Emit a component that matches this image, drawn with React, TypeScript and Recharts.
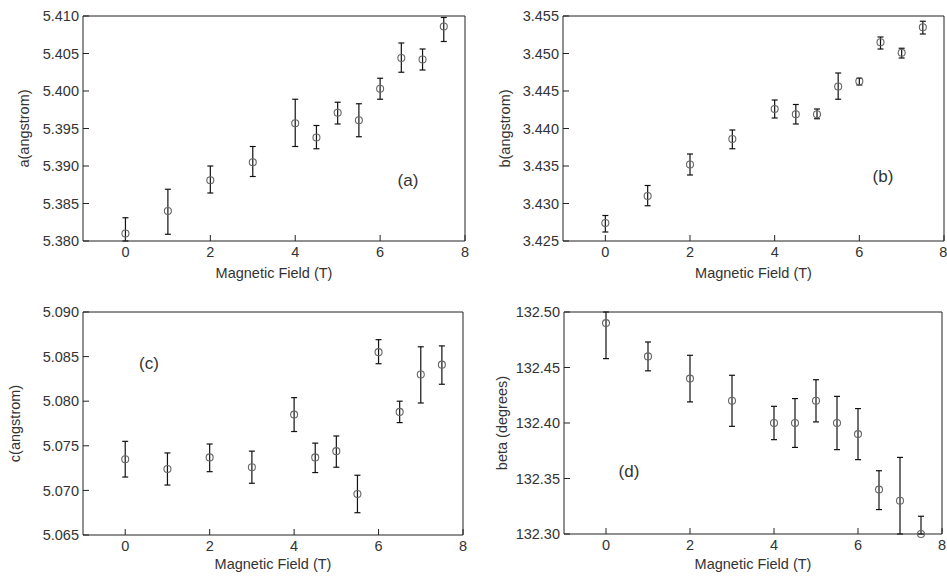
import { ErrorBar, Scatter, ScatterChart, XAxis, YAxis } from "recharts";

const field = [0, 1, 2, 3, 4, 4.5, 5, 5.5, 6, 6.5, 7, 7.5];
const fieldTicks = [0, 2, 4, 6, 8];

// (a) lattice a
const aValues = [5.381, 5.384, 5.3881, 5.3905, 5.3957, 5.3938, 5.3971, 5.3961, 5.4003, 5.4044, 5.4042, 5.4086];
const aErrUp = [0.0021, 0.0029, 0.0019, 0.0021, 0.0032, 0.0016, 0.0014, 0.0022, 0.0014, 0.002, 0.0014, 0.0012];
const aErrDown = [0.001, 0.0031, 0.0017, 0.0019, 0.0031, 0.0015, 0.0015, 0.0022, 0.0014, 0.0019, 0.0014, 0.002];
const aTicks = [5.38, 5.385, 5.39, 5.395, 5.4, 5.405, 5.41];

// (b) lattice b
const bValues = [3.4274, 3.431, 3.4352, 3.4386, 3.4426, 3.4419, 3.4419, 3.4456, 3.4463, 3.4515, 3.4501, 3.4535];
const bErrUp = [0.001, 0.0014, 0.0014, 0.0012, 0.0012, 0.0013, 0.0007, 0.0018, 0.0004, 0.0007, 0.0006, 0.0008];
const bErrDown = [0.0012, 0.0013, 0.0014, 0.0013, 0.0012, 0.0013, 0.0006, 0.0017, 0.0005, 0.0009, 0.0007, 0.0009];
const bTicks = [3.425, 3.43, 3.435, 3.44, 3.445, 3.45, 3.455];

// (c) lattice c
const cValues = [5.0735, 5.0724, 5.0737, 5.0726, 5.0785, 5.0737, 5.0744, 5.0696, 5.0855, 5.0788, 5.083, 5.0841];
const cErrUp = [0.002, 0.0018, 0.0015, 0.0018, 0.0019, 0.0016, 0.0017, 0.0021, 0.0014, 0.0012, 0.0031, 0.0021];
const cErrDown = [0.002, 0.0018, 0.0016, 0.0018, 0.0019, 0.0017, 0.0018, 0.0021, 0.0013, 0.0012, 0.0032, 0.0022];
const cTicks = [5.065, 5.07, 5.075, 5.08, 5.085, 5.09];

// (d) beta angle
const betaValues = [132.49, 132.46, 132.44, 132.42, 132.4, 132.4, 132.42, 132.4, 132.39, 132.34, 132.33, 132.3];
const betaErrUp = [0.01, 0.013, 0.021, 0.023, 0.015, 0.022, 0.019, 0.024, 0.023, 0.017, 0.039, 0.016];
const betaErrDown = [0.032, 0.013, 0.021, 0.023, 0.015, 0.022, 0.019, 0.024, 0.023, 0.018, 0.03, 0];
const betaTicks = [132.3, 132.35, 132.4, 132.45, 132.5];

const FONT = "'Liberation Sans', Arial, sans-serif";
const TEXT = "#333";
const AXIS = "#222";

type PanelProps = {
  left: number;
  top: number;
  width: number;
  height: number;
  yWidth: number;
  xHeight: number;
  margin: { top: number; right: number; bottom: number; left: number };
  values: number[];
  errUp: number[];
  errDown: number[];
  yTicks: number[];
  decimals: number;
  yLabel: string;
  yLabelX: number;
  xLabelOffset: number;
  tag: string;
  tagX: number;
  tagY: number;
};

function Panel(p: PanelProps) {
  const rows = field.map((x, i) => ({ x, y: p.values[i], err: [p.errDown[i], p.errUp[i]] }));
  const domain: [number, number] = [p.yTicks[0], p.yTicks[p.yTicks.length - 1]];
  const tickStyle = { fill: TEXT, fontSize: 14.5, fontFamily: FONT };
  return (
    <div style={{ position: "absolute", left: p.left, top: p.top, width: p.width, height: p.height }}>
      <ScatterChart width={p.width} height={p.height} margin={p.margin}>
        <XAxis
          dataKey="x"
          type="number"
          domain={[-1, 8]}
          ticks={fieldTicks}
          height={p.xHeight}
          tickSize={-6}
          tickMargin={12}
          tick={tickStyle}
          stroke={AXIS}
          label={{
            value: "Magnetic Field (T)",
            position: "insideBottom",
            offset: p.xLabelOffset,
            style: { fill: TEXT, fontSize: 14.5, fontFamily: FONT },
          }}
        />
        <XAxis
          xAxisId="top"
          orientation="top"
          type="number"
          domain={[-1, 8]}
          ticks={fieldTicks}
          height={1}
          tickSize={-6}
          tick={false}
          stroke={AXIS}
        />
        <YAxis
          dataKey="y"
          type="number"
          domain={domain}
          ticks={p.yTicks}
          width={p.yWidth}
          tickSize={-6}
          tickMargin={10}
          tick={tickStyle}
          tickFormatter={(v: number) => v.toFixed(p.decimals)}
          stroke={AXIS}
          label={{
            value: p.yLabel,
            angle: -90,
            position: "insideLeft",
            offset: p.yLabelX,
            style: { textAnchor: "middle", fill: TEXT, fontSize: 14.5, fontFamily: FONT },
          }}
        />
        <YAxis
          yAxisId="right"
          orientation="right"
          type="number"
          domain={domain}
          ticks={p.yTicks}
          width={1}
          tickSize={-6}
          tick={false}
          stroke={AXIS}
        />
        <Scatter
          data={rows}
          isAnimationActive={false}
          shape={(s: any) => (
            <circle cx={s.cx} cy={s.cy} r={3.5} fill="none" stroke="#666" strokeWidth={1.1} />
          )}
        >
          <ErrorBar dataKey="err" direction="y" width={3} stroke="#111" strokeWidth={1.2} isAnimationActive={false} />
        </Scatter>
      </ScatterChart>
      <div
        style={{
          position: "absolute",
          left: p.tagX,
          top: p.tagY,
          transform: "translate(-50%, -50%)",
          fontFamily: FONT,
          fontSize: 17,
          lineHeight: 1,
          color: TEXT,
        }}
      >
        {p.tag}
      </div>
    </div>
  );
}

export default function App() {
  return (
    <div style={{ position: "absolute", left: 0, top: 0, width: 947, height: 577, background: "#fff" }}>
      <Panel
        left={0}
        top={0}
        width={470}
        height={285}
        yWidth={83}
        xHeight={44}
        margin={{ top: 15, right: 4, bottom: 0, left: 0 }}
        values={aValues}
        errUp={aErrUp}
        errDown={aErrDown}
        yTicks={aTicks}
        decimals={3}
        yLabel="a(angstrom)"
        yLabelX={24}
        xLabelOffset={7}
        tag="(a)"
        tagX={408}
        tagY={180}
      />
      <Panel
        left={470}
        top={0}
        width={477}
        height={285}
        yWidth={93}
        xHeight={44}
        margin={{ top: 15, right: 2, bottom: 0, left: 0 }}
        values={bValues}
        errUp={bErrUp}
        errDown={bErrDown}
        yTicks={bTicks}
        decimals={3}
        yLabel="b(angstrom)"
        yLabelX={35}
        xLabelOffset={7}
        tag="(b)"
        tagX={413}
        tagY={176}
      />
      <Panel
        left={0}
        top={290}
        width={470}
        height={287}
        yWidth={83}
        xHeight={42}
        margin={{ top: 21, right: 6, bottom: 0, left: 0 }}
        values={cValues}
        errUp={cErrUp}
        errDown={cErrDown}
        yTicks={cTicks}
        decimals={3}
        yLabel="c(angstrom)"
        yLabelX={15}
        xLabelOffset={8}
        tag="(c)"
        tagX={149}
        tagY={73}
      />
      <Panel
        left={470}
        top={290}
        width={477}
        height={287}
        yWidth={94}
        xHeight={43}
        margin={{ top: 21, right: 4, bottom: 0, left: 0 }}
        values={betaValues}
        errUp={betaErrUp}
        errDown={betaErrDown}
        yTicks={betaTicks}
        decimals={2}
        yLabel="beta (degrees)"
        yLabelX={32}
        xLabelOffset={8}
        tag="(d)"
        tagX={159}
        tagY={181}
      />
    </div>
  );
}
